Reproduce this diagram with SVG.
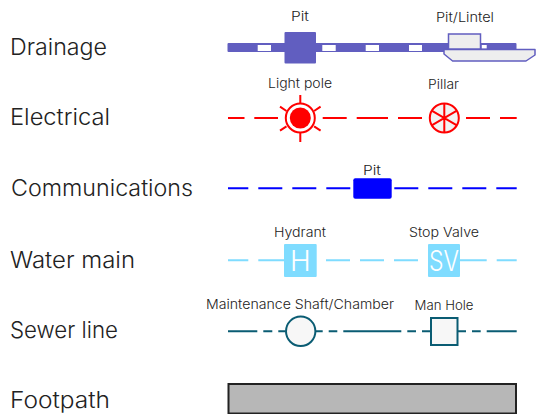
<svg xmlns="http://www.w3.org/2000/svg" width="536" height="414" viewBox="0 0 536 414">
<style>
text{font-family:"Inter","Liberation Sans",sans-serif;fill:#222;font-weight:300}
.h{font-size:22.5px}
.l{font-size:13px;text-anchor:middle;font-weight:300}
.c{fill:none;stroke-width:2}
.e{stroke:#f00}.m{stroke:#00f}.w{stroke:#7fdcff}.s{stroke:#0a5c73}
.g{font-size:28px;fill:#fff;text-anchor:middle}
</style>
<rect width="536" height="414" fill="#fff"/>
<g id="legend-labels">
<text class="h" x="10" y="55" textLength="97" lengthAdjust="spacingAndGlyphs">Drainage</text>
<text class="h" x="10" y="125" textLength="100" lengthAdjust="spacingAndGlyphs">Electrical</text>
<text class="h" x="11" y="196" textLength="182" lengthAdjust="spacingAndGlyphs">Communications</text>
<text class="h" x="10" y="268" textLength="125" lengthAdjust="spacingAndGlyphs">Water main</text>
<text class="h" x="10" y="338" textLength="108" lengthAdjust="spacingAndGlyphs">Sewer line</text>
<text class="h" x="10" y="408" textLength="100" lengthAdjust="spacingAndGlyphs">Footpath</text>
</g>
<g id="connectors">
<rect x="227.500" y="43" width="289" height="9" rx="1" fill="#615ec0"/>
<g fill="#fff"><rect x="257.700" y="45" width="13.300" height="6"/><rect x="322.300" y="45" width="13.400" height="6"/><rect x="365.700" y="45" width="13.300" height="6"/><rect x="409" y="45" width="13" height="6"/><rect x="481.700" y="45" width="5" height="3.500"/></g>
<path class="c e" d="M228 118h16.500M254.300 118H278M322.700 118h24M356.700 118H388M398 118h24M466 118h24M500 118h16.700"/>
<path class="c m" d="M228 188.300h20.300M258.300 188.300h24M292.300 188.300h24M326.300 188.300h24M394.300 188.300h24M428.300 188.300h24M462.300 188.300h24M496.300 188.300h20.400"/>
<path class="c w" d="M228 260.300h20.300M258.300 260.300H285M326 260.300h24M360 260.300h24M394 260.300h24M460 260.300h26.700M496.700 260.300h20"/>
<path class="c s" d="M228 331.300h29.300M263.300 331.300h9M278.300 331.300h7M316 331.300h6.700M328.700 331.300h8.600M343.300 331.300h58M407.300 331.300h8.700M422 331.300h8.700M457.700 331.300h8.300M472 331.300h8.700M486.700 331.300h30"/>
</g>
<g id="drain-pit">
<rect x="284.500" y="32" width="31.500" height="31.500" rx="1" fill="#615ec0"/>
<text class="l" x="300" y="21" textLength="18" lengthAdjust="spacingAndGlyphs">Pit</text>
</g>
<g id="drain-lintel">
<path d="M444 49.500H535V55L526 61H452.600L444 54Z" fill="#eee" stroke="#615ec0" stroke-width="1.500" stroke-linejoin="round"/>
<rect x="448.500" y="34" width="32" height="15" fill="#eee" stroke="#615ec0" stroke-width="1.500"/>
<text class="l" x="465" y="22" textLength="58" lengthAdjust="spacingAndGlyphs">Pit/Lintel</text>
</g>
<g id="light-pole">
<circle cx="300.300" cy="118" r="14.500" fill="#fff" stroke="#f00" stroke-width="2"/>
<circle cx="300.300" cy="118" r="10.500" fill="#f00"/>
<path class="c e" d="M300.300 95v8M300.300 133v9M280 106.700l6.500 4.300M320.600 106.700l-6.500 4.300M280 130.700l6.500-4.300M320.600 130.700l-6.500-4.300"/>
<text class="l" x="300" y="88" textLength="64" lengthAdjust="spacingAndGlyphs">Light pole</text>
</g>
<g id="pillar">
<circle cx="444.300" cy="118" r="14.500" fill="#f2f2f2" stroke="#f00" stroke-width="2"/>
<path class="c e" d="M444.300 103.500v29M431.700 110.700l25.200 14.600M431.700 125.300l25.200-14.600"/>
<text class="l" x="443.500" y="89" textLength="31" lengthAdjust="spacingAndGlyphs">Pillar</text>
</g>
<g id="comm-pit">
<rect x="353.300" y="178.300" width="38.400" height="20.400" rx="2" fill="#00f"/>
<text class="l" x="372" y="175" textLength="18" lengthAdjust="spacingAndGlyphs">Pit</text>
</g>
<g id="hydrant">
<rect x="284" y="244" width="32.700" height="33" rx="1" fill="#7fdcff"/>
<text class="g" x="300.300" y="271">H</text>
<text class="l" x="300" y="237" textLength="52" lengthAdjust="spacingAndGlyphs">Hydrant</text>
</g>
<g id="stop-valve">
<rect x="428" y="244" width="32" height="33" rx="1" fill="#7fdcff"/>
<text class="g" x="444" y="271" textLength="30" lengthAdjust="spacingAndGlyphs">SV</text>
<text class="l" x="444" y="237" textLength="70" lengthAdjust="spacingAndGlyphs">Stop Valve</text>
</g>
<g id="maintenance-shaft">
<circle cx="300.700" cy="331.300" r="14.700" fill="#f7f7f7" stroke="#0a5c73" stroke-width="2"/>
<text class="l" x="300" y="309" textLength="188" lengthAdjust="spacingAndGlyphs">Maintenance Shaft/Chamber</text>
</g>
<g id="man-hole">
<rect x="431" y="318" width="26.500" height="27" fill="#f7f7f7" stroke="#0a5c73" stroke-width="2"/>
<text class="l" x="444" y="310" textLength="59" lengthAdjust="spacingAndGlyphs">Man Hole</text>
</g>
<g id="footpath">
<rect x="228.500" y="384" width="287.500" height="29.500" fill="#b7b7b7" stroke="#222" stroke-width="2"/>
</g>
</svg>
